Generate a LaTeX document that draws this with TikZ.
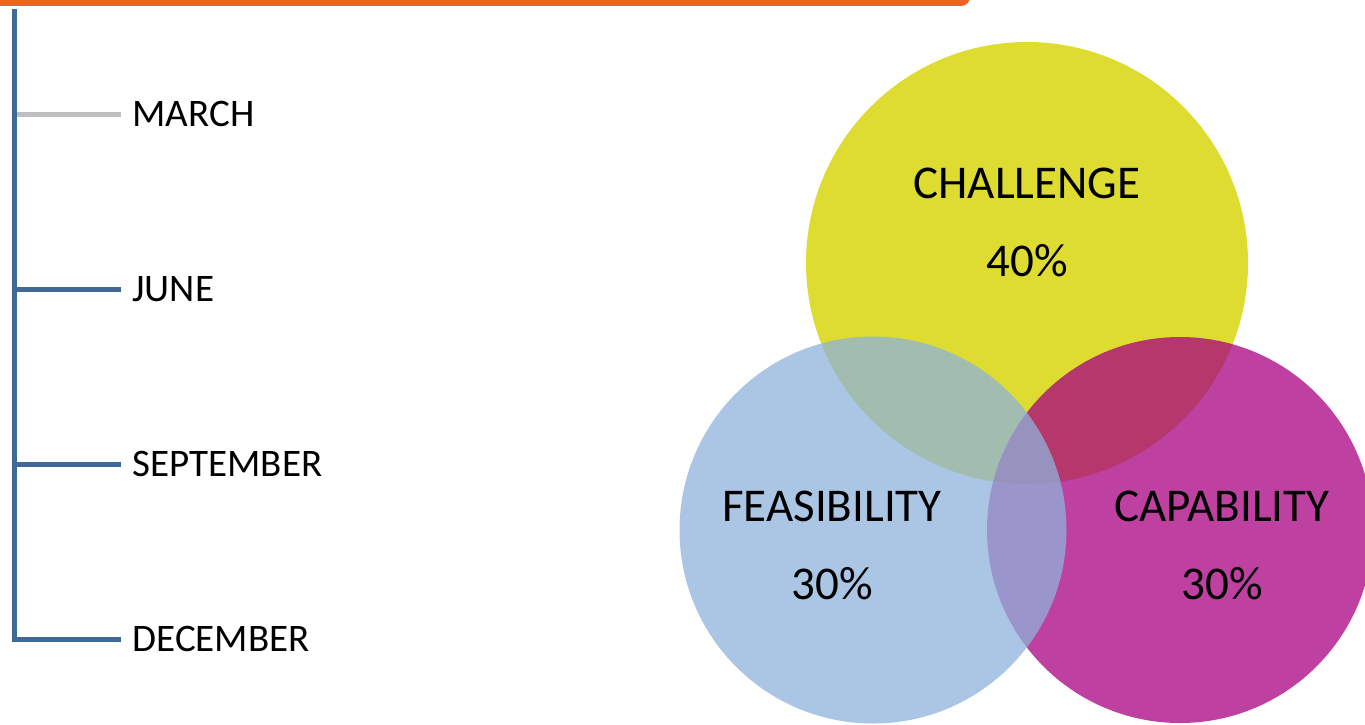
\documentclass[tikz,border=0pt]{standalone}
\usepackage{fontspec}
\setmainfont{Carlito}
\usepackage{tikz}
\usetikzlibrary{positioning}

\definecolor{barorange}{RGB}{241,96,36}
\definecolor{spineblue}{RGB}{64,105,152}
\definecolor{tickgray}{RGB}{191,191,191}
\definecolor{chalyellow}{RGB}{222,220,48}
\definecolor{capamagenta}{RGB}{168,0,128}
\definecolor{feasblue}{RGB}{142,179,219}

\begin{document}
\begin{tikzpicture}[x=1pt,y=-1pt,line width=5pt]
  \tikzstyle{month}=[anchor=west,inner sep=0pt,text height=25pt,text depth=0pt,
                     font=\fontsize{39}{47}\selectfont]
  \tikzstyle{tick}=[draw=spineblue,line width=5pt]
  \tikzstyle{set}=[circle,draw=none,inner sep=0pt]
  \tikzstyle{settext}=[inner sep=0pt,text height=30pt,text depth=0pt,
                       font=\fontsize{47}{56}\selectfont]

  \useasboundingbox (0,0) rectangle (1365,725);
  \clip (0,0) rectangle (1365,725);

  % header bar
  \fill[barorange,rounded corners=9pt] (-20,-30) rectangle (970,6);

  % timeline
  \coordinate (top) at (14,9);
  \node[month]                                  (mar) at (130,114) {MARCH};
  \node[month,below=175pt of mar.west,anchor=west] (jun)           {JUNE};
  \node[month,below=175pt of jun.west,anchor=west] (sep)           {SEPTEMBER};
  \node[month,below=175pt of sep.west,anchor=west] (dec)           {DECEMBER};

  \draw[tick,draw=tickgray] (top |- mar.west) -- ([xshift=-9pt]mar.west);
  \draw[tick] (top |- jun.west) -- ([xshift=-9pt]jun.west);
  \draw[tick] (top |- sep.west) -- ([xshift=-9pt]sep.west);
  \draw[tick] (top) |- ([xshift=-9pt]dec.west);

  % venn circles
  \node[set,fill=chalyellow,minimum size=442pt]                   (chal) at (1027,263) {};
  \node[set,fill=capamagenta,fill opacity=0.75,minimum size=386pt] (capa) at (1180,530) {};
  \node[set,fill=feasblue,fill opacity=0.75,minimum size=387pt]    (feas) at (873,530)  {};

  \node[settext]                    (chaltxt) at (1027,183) {CHALLENGE};
  \node[settext,below=43pt of chaltxt] (chalpc)            {40\%};
  \node[settext]                    (feastxt) at (832,506)  {FEASIBILITY};
  \node[settext,below=43pt of feastxt] (feaspc)            {30\%};
  \node[settext]                    (capatxt) at (1222,506) {CAPABILITY};
  \node[settext,below=43pt of capatxt] (capapc)            {30\%};
\end{tikzpicture}
\end{document}
